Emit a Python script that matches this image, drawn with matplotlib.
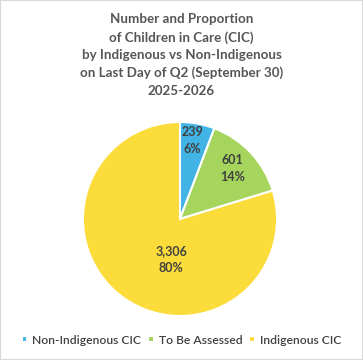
import matplotlib.pyplot as plt
from matplotlib.patches import Rectangle

plt.rcParams['font.family'] = ['Lato', 'DejaVu Sans']

categories = ['Non-Indigenous CIC', 'To Be Assessed', 'Indigenous CIC']
counts = [239, 601, 3306]
percents = ['6%', '14%', '80%']
colors = ['#41B4E5', '#A5D55C', '#FCDC3B']
title = ('Number and Proportion\nof Children in Care (CIC)\nby Indigenous vs Non-Indigenous\n'
         'on Last Day of Q2 (September 30)\n2025-2026')

W, H = 363, 360
fig = plt.figure(figsize=(W / 100, H / 100), dpi=100)
fig.patches.append(Rectangle((0, 0), 1, 1, transform=fig.transFigure, fill=False,
                             edgecolor='#D9D9D9', linewidth=1.5))

cx, cy, r = 180, 219, 97
ax = fig.add_axes([(cx - r) / W, (H - cy - r) / H, 2 * r / W, 2 * r / H])
wedges, _ = ax.pie(counts, colors=colors, startangle=90, counterclock=False,
                   radius=1, wedgeprops=dict(edgecolor='white', linewidth=1.5))
ax.set_xlim(-1, 1)
ax.set_ylim(-1, 1)
ax.set_aspect('equal')

# label positions (Excel-style placement)
label_xy = [(0.13, 0.81), (0.54, 0.52), (-0.09, -0.42)]
for (x, y), n, p in zip(label_xy, counts, percents):
    ax.text(x, y, f'{n:,}\n{p}', ha='center', va='center', fontsize=9,
            fontweight='bold', color='#404040', linespacing=1.5)

fig.text(0.5, 1 - 55 / H, title, ha='center', va='center', fontsize=9.6,
         fontweight='bold', color='#555555', linespacing=1.55)

fig.legend(wedges, categories, loc='center', bbox_to_anchor=(0.5, 1 - 340 / H),
           ncol=3, frameon=False, handlelength=0.45, handleheight=0.45,
           handletextpad=0.45, columnspacing=0.55, borderpad=0,
           prop=dict(size=8.7, weight='semibold'), labelcolor='#404040')

fig.savefig('out.png', dpi=100)
